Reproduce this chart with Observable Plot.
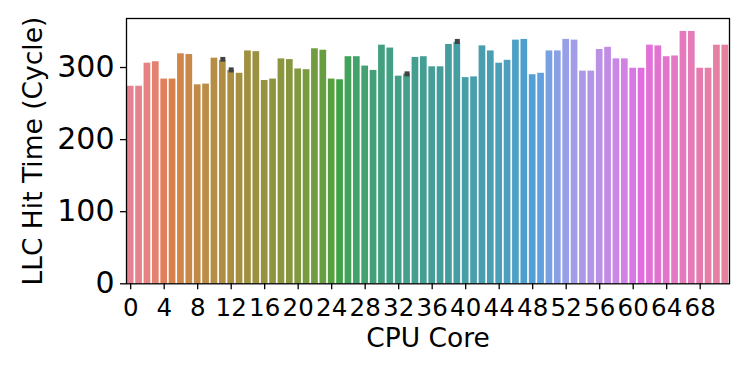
<!DOCTYPE html>
<html><head><meta charset="utf-8">
<script src="https://cdn.jsdelivr.net/npm/d3@7"></script>
<script src="https://cdn.jsdelivr.net/npm/@observablehq/plot@0.6"></script>
<style>body{margin:0;background:#fff}</style>
</head><body><div id="chart"></div>
<script>
// ---- data ----
const cores = d3.range(72);
const hitTime = [274,274,306,308,284,284,319,318,276,277,313,310,296,292,323,322,282,284,312,311,
  298,297,326,324,284,283,315,315,302,296,331,327,288,291,314,315,301,301,332,335,
  286,287,330,323,306,310,338,339,290,292,323,323,339,338,295,295,325,328,312,312,
  299,299,331,330,315,316,350,350,299,299,331,331];
const errCores = [11, 12, 33, 39];
const errLow  = [307.5, 292.5, 287, 332];
const errHigh = [314, 299.5, 294, 339];
const xTicks = [0,4,8,12,16,20,24,28,32,36,40,44,48,52,56,60,64,68];
const yTicks = [0,100,200,300];
const xLabel = "CPU Core";
const yLabel = "LLC Hit Time (Cycle)";

// ---- seaborn husl palette (h=.01, s=.9, l=.65) with barplot saturation .75 ----
const M = [[3.2406,-1.5372,-0.4986],[-0.9689,1.8758,0.0415],[0.0557,-0.2040,1.0570]];
const refU = 0.19784, refV = 0.46834, labE = 0.008856, labK = 903.3;
function maxChroma(L, H) {
  const hr = H * Math.PI / 180, sinH = Math.sin(hr), cosH = Math.cos(hr);
  const sub1 = Math.pow(L + 16, 3) / 1560896;
  const sub2 = sub1 > labE ? sub1 : L / labK;
  let res = Infinity;
  for (const [m1, m2, m3] of M) {
    const top = (0.99915*m1 + 1.05122*m2 + 1.14460*m3) * sub2;
    const rb = 0.86330*m3 - 0.17266*m2;
    const lb = 0.12949*m3 - 0.38848*m1;
    const bottom = (rb*sinH + lb*cosH) * sub2;
    for (const t of [0, 1]) {
      const C = L * (top - 1.05122*t) / (bottom + 0.17266*sinH*t);
      if (C > 0 && C < res) res = C;
    }
  }
  return res;
}
function huslToRgb(H, S, L) {
  const C = maxChroma(L, H) / 100 * S;
  const hr = H * Math.PI / 180;
  const U = Math.cos(hr) * C, V = Math.sin(hr) * C;
  const t = (L + 16) / 116;
  const varY = Math.pow(t, 3) > labE ? Math.pow(t, 3) : (116*t - 16) / labK;
  const vU = U / (13*L) + refU, vV = V / (13*L) + refV;
  const Y = varY;
  const X = -(9*Y*vU) / ((vU - 4)*vV - vU*vV);
  const Z = (9*Y - 15*vV*Y - vV*X) / (3*vV);
  const fl = c => c <= 0.0031308 ? 12.92*c : 1.055*Math.pow(c, 1/2.4) - 0.055;
  return M.map(r => Math.min(1, Math.max(0, fl(r[0]*X + r[1]*Y + r[2]*Z))));
}
const palette = cores.map((_, i) => {
  const h = ((i / cores.length + 0.01) % 1) * 359;
  const [r, g, b] = huslToRgb(h, 0.9*99, 0.65*99);
  const c = d3.hsl(d3.rgb(r*255, g*255, b*255));
  c.s *= 0.75;
  return c.formatHex();
});

const bars = cores.map((c, i) => ({core: c, t: hitTime[i], color: palette[i]}));
const errs = errCores.map((c, i) => ({core: c, lo: errLow[i], hi: errHigh[i]}));

const chart = Plot.plot({
  width: 747, height: 374,
  marginLeft: 126, marginRight: 18, marginTop: 18, marginBottom: 90.7,
  x: {type: "band", domain: cores, paddingInner: 0.2, paddingOuter: 0.1, round: false, label: null},
  y: {domain: [0, 368], label: null},
  color: {type: "identity"},
  style: {fontFamily: "DejaVu Sans", color: "black", background: "white"},
  marks: [
    Plot.barY(bars, {x: "core", y: "t", fill: "color"}),
    Plot.ruleX(errs, {x: "core", y1: "lo", y2: "hi", stroke: "#424242", strokeWidth: 5}),
    Plot.frame({stroke: "black", strokeWidth: 1.3}),
    Plot.axisX({ticks: xTicks, tickSize: 6, tickPadding: 9, fontSize: 24.5, strokeWidth: 1.3, label: null}),
    Plot.axisY({ticks: yTicks, tickSize: 6, tickPadding: 6, fontSize: 30, strokeWidth: 1.3, label: null}),
    Plot.text([yLabel], {frameAnchor: "left", rotate: -90, dx: -92.6, fontSize: 26.5, textAnchor: "middle", lineAnchor: "middle", fill: "black"}),
    Plot.text([xLabel], {frameAnchor: "bottom", dy: 55, fontSize: 26.5, textAnchor: "middle", lineAnchor: "middle", fill: "black"})
  ]
});
document.getElementById("chart").appendChild(chart);
</script>
</body></html>
